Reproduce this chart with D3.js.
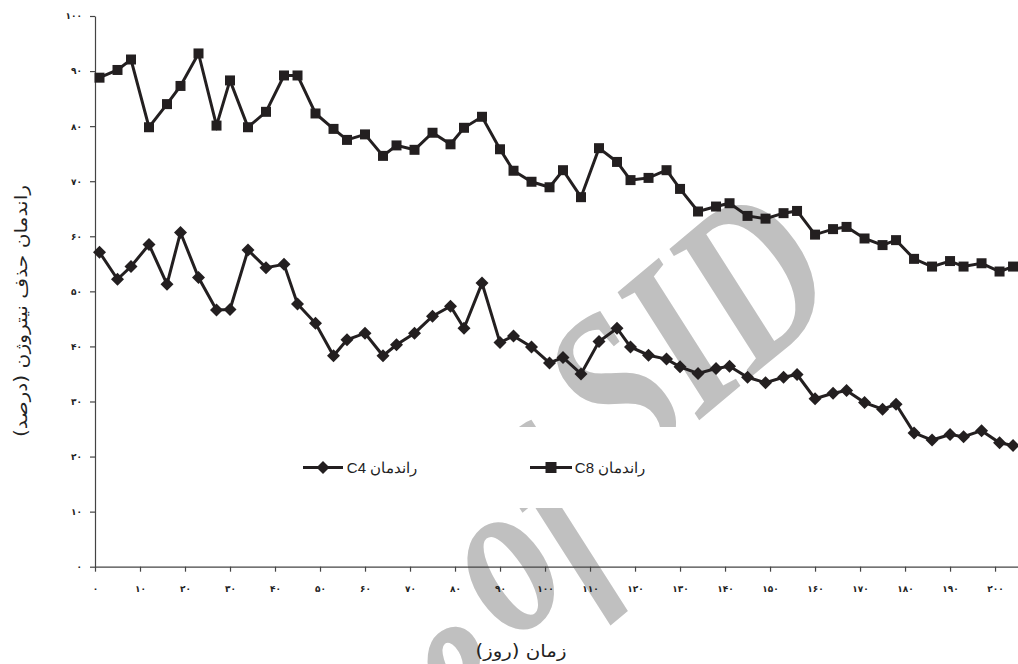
<!DOCTYPE html>
<html>
<head>
<meta charset="utf-8">
<script src="https://cdn.jsdelivr.net/npm/d3@7"></script>
<style>
  html, body { margin: 0; padding: 0; background: #fff; }
  svg { display: block; }
</style>
</head>
<body>
<svg id="chart" width="1018" height="664"></svg>
<script>
// Sampling days (x) and nitrogen removal efficiency (%) for the two reactors
const days = [1, 5, 8, 12, 16, 19, 23, 27, 30, 34, 38, 42, 45, 49, 53, 56, 60, 64, 67, 71,
              75, 79, 82, 86, 90, 93, 97, 101, 104, 108, 112, 116, 119, 123, 127, 130, 134, 138, 141, 145,
              149, 153, 156, 160, 164, 167, 171, 175, 178, 182, 186, 190, 193, 197, 201, 204];

const effC4 = [57.1, 52.2, 54.5, 58.5, 51.3, 60.7, 52.5, 46.6, 46.7, 57.5, 54.3, 54.9, 47.7, 44.2, 38.3, 41.2, 42.4, 38.3, 40.3, 42.4,
               45.5, 47.3, 43.3, 51.5, 40.7, 41.9, 39.9, 37.0, 38.0, 35.0, 40.9, 43.3, 39.9, 38.4, 37.7, 36.3, 35.1, 36.0, 36.4, 34.4,
               33.4, 34.4, 34.9, 30.5, 31.5, 32.0, 29.8, 28.6, 29.5, 24.3, 23.0, 24.0, 23.6, 24.7, 22.5, 22.0];

const effC8 = [88.8, 90.2, 92.1, 79.8, 84.0, 87.3, 93.2, 80.1, 88.3, 79.8, 82.6, 89.2, 89.2, 82.3, 79.5, 77.5, 78.5, 74.6, 76.5, 75.7,
               78.8, 76.7, 79.7, 81.7, 75.8, 71.9, 69.9, 68.9, 72.0, 67.1, 76.0, 73.5, 70.2, 70.6, 72.0, 68.6, 64.5, 65.4, 66.0, 63.7,
               63.2, 64.2, 64.6, 60.3, 61.3, 61.7, 59.6, 58.4, 59.3, 55.9, 54.5, 55.5, 54.5, 55.1, 53.6, 54.5];

const xTicks = [0, 10, 20, 30, 40, 50, 60, 70, 80, 90, 100, 110, 120, 130, 140, 150, 160, 170, 180, 190, 200];
const yTicks = [0, 10, 20, 30, 40, 50, 60, 70, 80, 90, 100];

const seriesNames = ["راندمان C4", "راندمان C8"];
const xTitle = "زمان (روز)";
const yTitle = "راندمان حذف نیتروژن (درصد)";
const watermarkWords = ["Archive", "of", "SID"];

const faDigits = "۰۱۲۳۴۵۶۷۸۹";
const toFa = n => String(n).replace(/\d/g, d => faDigits[+d]);

const ink = "#231f20";
const svg = d3.select("#chart");

const x = d3.scaleLinear().domain([0, 205.1]).range([95, 1018]);
const y = d3.scaleLinear().domain([0, 100]).range([566.7, 16]);

// faint diagonal watermark behind everything (condensed italic serif)
const wm = svg.append("g")
  .attr("fill", "#c0c0c0")
  .attr("font-family", "'Liberation Serif', serif")
  .attr("font-style", "italic")
  .attr("font-weight", "bold")
  .attr("font-size", 230);
const wmWords = [
  { text: watermarkWords[0], at: [530, 698], anchor: "end" },
  { text: watermarkWords[1], at: [623, 551], anchor: "end" },
  { text: watermarkWords[2], at: [627, 481], anchor: "start" }
];
wmWords.forEach(w => {
  wm.append("text")
    .attr("transform", `translate(${w.at[0]},${w.at[1]}) rotate(-40) scale(0.75,1)`)
    .attr("text-anchor", w.anchor)
    .text(w.text);
});

// legend panel background
svg.append("rect")
  .attr("x", 285).attr("y", 427).attr("width", 420).attr("height", 81)
  .attr("fill", "#fff");

// axes
const xAxis = d3.axisBottom(x).tickValues(xTicks).tickFormat(toFa).tickSize(5).tickSizeOuter(0).tickPadding(14);
const yAxis = d3.axisLeft(y).tickValues(yTicks).tickFormat(toFa).tickSize(5).tickSizeOuter(0).tickPadding(8);

const gx = svg.append("g").attr("transform", `translate(0,${y(0)})`).call(xAxis);
const gy = svg.append("g").attr("transform", `translate(${x(0)},0)`).call(yAxis);

[gx, gy].forEach(g => {
  g.select(".domain").attr("stroke", "#444").attr("stroke-width", 1.2);
  g.selectAll(".tick line").attr("stroke", "#444").attr("stroke-width", 1.2);
  g.selectAll(".tick text")
    .attr("fill", "#222")
    .attr("font-family", "'DejaVu Sans', sans-serif")
    .attr("font-weight", "bold")
    .attr("font-size", 9);
});

// axis titles
svg.append("text")
  .attr("x", 521)
  .attr("y", 657)
  .attr("text-anchor", "middle")
  .attr("direction", "rtl")
  .attr("font-family", "'DejaVu Sans', sans-serif")
  .attr("font-size", 17)
  .attr("textLength", 91)
  .attr("lengthAdjust", "spacingAndGlyphs")
  .attr("fill", "#222")
  .text(xTitle);

svg.append("text")
  .attr("transform", "translate(27,311) rotate(-90)")
  .attr("text-anchor", "middle")
  .attr("direction", "rtl")
  .attr("font-family", "'DejaVu Sans', sans-serif")
  .attr("font-size", 17)
  .attr("textLength", 252)
  .attr("lengthAdjust", "spacingAndGlyphs")
  .attr("fill", "#222")
  .text(yTitle);

// series
const line = d3.line().x(d => x(d[0])).y(d => y(d[1]));
const c4 = days.map((d, i) => [d, effC4[i]]);
const c8 = days.map((d, i) => [d, effC8[i]]);

const diamond = (s) => `M0,${-s}L${s},0L0,${s}L${-s},0Z`;
const square = (s) => `M${-s},${-s}H${s}V${s}H${-s}Z`;

function drawSeries(data, shape) {
  svg.append("path").datum(data)
    .attr("d", line)
    .attr("fill", "none")
    .attr("stroke", ink)
    .attr("stroke-width", 3)
    .attr("stroke-linejoin", "miter");
  svg.append("g").selectAll("path").data(data).join("path")
    .attr("transform", d => `translate(${x(d[0])},${y(d[1])})`)
    .attr("d", shape)
    .attr("fill", ink);
}
drawSeries(c8, square(5));
drawSeries(c4, diamond(6.5));

// legend
const legend = [
  { name: seriesNames[0], x0: 303, x1: 343, shape: diamond(6.5), tx: 382 },
  { name: seriesNames[1], x0: 530, x1: 572, shape: square(5.5), tx: 610 }
];
const ly = 467.5;
legend.forEach(l => {
  svg.append("line")
    .attr("x1", l.x0).attr("x2", l.x1).attr("y1", ly).attr("y2", ly)
    .attr("stroke", ink).attr("stroke-width", 3);
  svg.append("path")
    .attr("transform", `translate(${(l.x0 + l.x1) / 2},${ly})`)
    .attr("d", l.shape).attr("fill", ink);
  svg.append("text")
    .attr("x", l.tx).attr("y", ly + 5)
    .attr("text-anchor", "middle")
    .attr("direction", "rtl")
    .attr("font-family", "'Liberation Sans', Arial, sans-serif")
    .attr("font-size", 15)
    .attr("fill", "#222")
    .text(l.name);
});
</script>
</body>
</html>
